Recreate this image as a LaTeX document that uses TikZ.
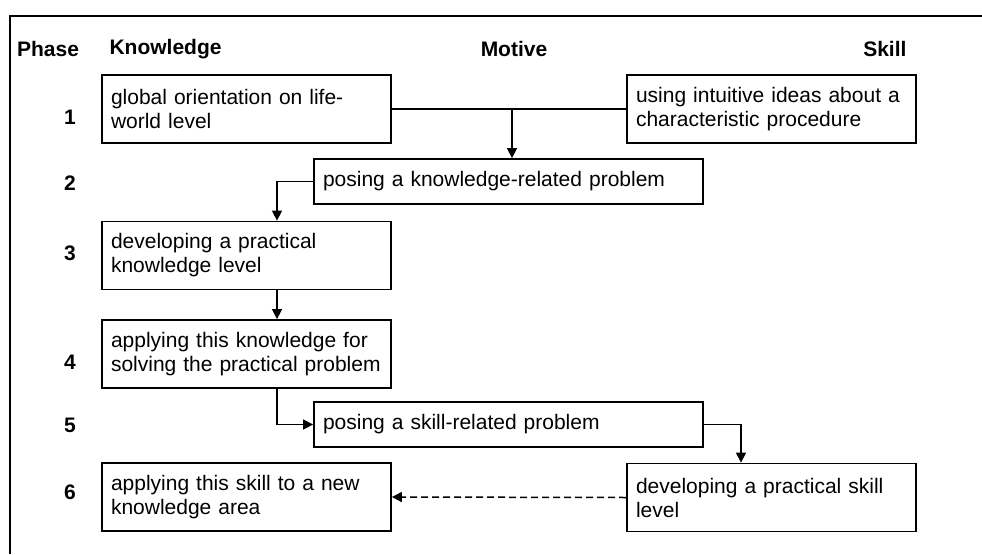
\documentclass[tikz,border=0pt]{standalone}
\usepackage{fontspec}
\setmainfont{Liberation Sans}
\usetikzlibrary{arrows.meta}

\begin{document}
\begin{tikzpicture}[x=1pt, y=-1pt,
    >={Triangle[length=10pt,width=10pt]},
    every node/.style={font=\fontsize{21}{24}\selectfont},
    box/.style={draw, line width=1.8pt, align=left, inner xsep=9pt, inner ysep=0pt,
      minimum height=68pt, text width=271pt},
    widebox/.style={box, minimum height=45pt, text width=371pt},
    head/.style={font=\fontsize{21}{24}\selectfont\bfseries},
    link/.style={line width=1.5pt}]
  \useasboundingbox (0,0) rectangle (982,554);
  \draw[line width=1.8pt] (982,16) -- (10,16) -- (10,554);

  % column headings
  \node[head] (phase) at (48,49) {Phase};
  \node[head, anchor=west] (know) at (106,49) {Knowledge};
  \node[head] (motive) at (514,49) {Motive};
  \node[head, anchor=east] (skill) at (910,49) {Skill};

  % phase numbers
  \foreach \n/\y in {1/117, 2/183, 3/253, 4/362, 5/425, 6/492}
    \node[head] (p\n) at (70,\y) {\n};

  % boxes
  \node[box] (k1) at (246.5,109) {global orientation on life-\\world level};
  \node[box] (s1) at (771.5,109) {using intuitive ideas about a\\characteristic procedure};
  \node[widebox] (m2) at (508.5,181.5) {posing a knowledge-related problem};
  \node[box] (k3) at (246.5,255.5) {developing a practical\\knowledge level};
  \node[box] (k4) at (246.5,354) {applying this knowledge for\\solving the practical problem};
  \node[widebox] (m5) at (508.5,424.5) {posing a skill-related problem};
  \node[box] (k6) at (246.5,497) {applying this skill to a new\\knowledge area};
  \node[box] (s6) at (771.5,497.5) {developing a practical skill\\level};

  % connectors
  \coordinate (j1) at (512,109);
  \coordinate (kcol) at (277,0);
  \coordinate (scol) at (741,0);
  \draw[link] (k1.east) -- (s1.west);
  \draw[link,->] (j1) -- (j1 |- m2.north);
  \draw[link,->] (m2.west) -| (kcol |- k3.north);
  \draw[link,->] (kcol |- k3.south) -- (kcol |- k4.north);
  \draw[link,->] (kcol |- k4.south) |- (m5.west);
  \draw[link,->] (m5.east) -| (scol |- s6.north);
  \draw[link,->,dash pattern=on 7pt off 4pt] (s6.west) -- (k6.east);
\end{tikzpicture}
\end{document}
